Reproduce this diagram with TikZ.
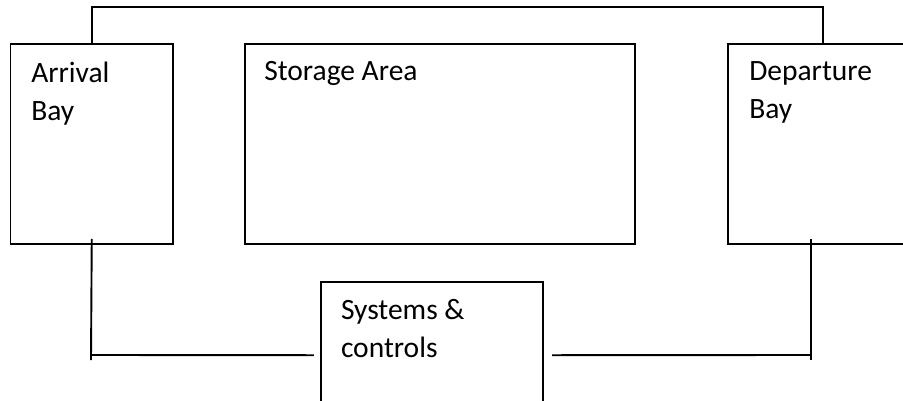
\documentclass[tikz,border=0pt]{standalone}
\usepackage{fontspec}
\setmainfont{Carlito}
\usetikzlibrary{calc,positioning}
\tikzset{
  room/.style={draw, line width=1.9pt, inner sep=0pt},
  roomtext/.style={inner sep=0pt, align=left, anchor=north west,
    font=\fontsize{29.5}{38}\selectfont},
  wire/.style={line width=1.9pt}
}

\begin{document}
\begin{tikzpicture}[x=1pt, y=-1pt]
		%%%%% START %%%%%
		\useasboundingbox (0, 0) rectangle (903, 400);
		\clip (0, 0) rectangle (903, 400);
		
		\node[room, minimum width=162.5pt, minimum height=200pt] (arrival) at (91.75, 144) {};
		\node[room, minimum width=390pt, minimum height=200pt] (storage) at (440, 144) {};
		\node[room, minimum width=190pt, minimum height=200pt] (departure) at (823, 144) {};
		\node[room, minimum width=222.5pt, minimum height=147pt] (systems) at (432, 355.2) {};
		
		\node[roomtext] (arrivaltxt) at ($(arrival.north west)+(21.5, 18.5)$) {Arrival\\Bay};
		\node[roomtext] (storagetxt) at ($(storage.north west)+(20, 18.5)$) {Storage Area};
		\node[roomtext] (departuretxt) at ($(departure.north west)+(22, 18.5)$) {Departure\\Bay};
		\node[roomtext] (systemstxt) at ($(systems.north west)+(21, 18.5)$) {Systems \&\\controls};
		
		\coordinate (arrivalfoot) at (91, 360);
		\coordinate (arrivaljoin) at (91, 355);
		\coordinate (departurefoot) at (811, 360);
		\coordinate (departurejoin) at (811, 355);
		
		\draw[wire] (arrival.north) -- ++(0, -36) -| (departure.north);
		\draw[wire] ([yshift=6pt]arrival.south) -- (arrivalfoot);
		\draw[wire] ([xshift=-12pt, yshift=6pt]departure.south) -- (departurefoot);
		\draw[wire] (arrivaljoin) -- ([xshift=-6pt]systems.west);
		\draw[wire] ([xshift=8pt]systems.east) -- (departurejoin);
		%%%%% END %%%%%
\end{tikzpicture}
\end{document}
